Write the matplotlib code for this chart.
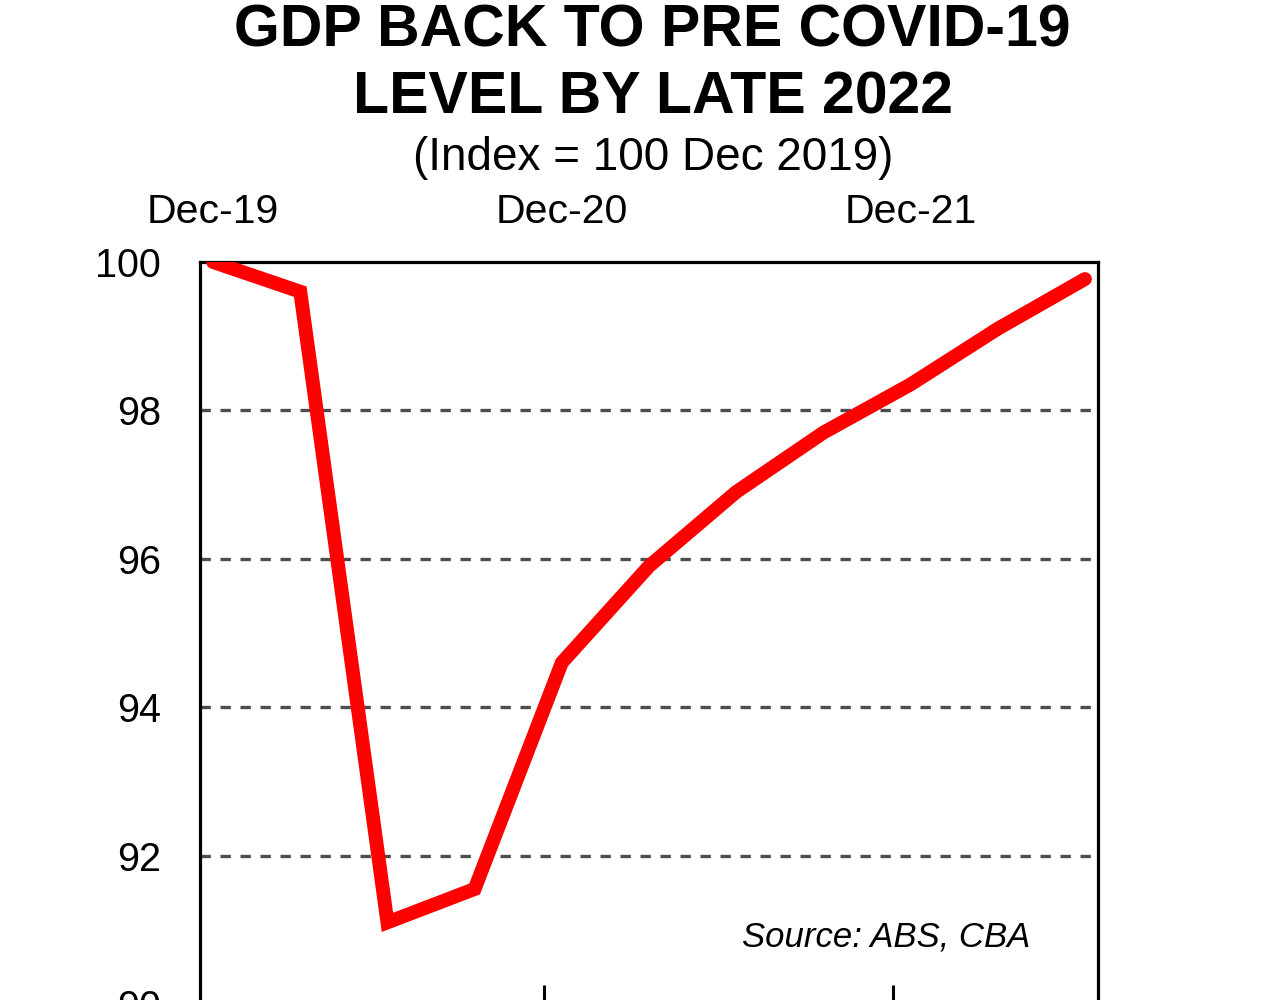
import numpy as np
import matplotlib
matplotlib.use("Agg")
import matplotlib.pyplot as plt
from matplotlib.ticker import FixedLocator

# ---- data ----
quarters = ["Dec-19", "Mar-20", "Jun-20", "Sep-20", "Dec-20", "Mar-21",
            "Jun-21", "Sep-21", "Dec-21", "Mar-22", "Jun-22"]
gdp_index = [100.0, 99.6, 91.1, 91.55, 94.6, 95.9, 96.9, 97.7, 98.35, 99.1, 99.77]
top_labels = ["Dec-19", "Dec-20", "Dec-21"]
y_ticks = [90, 92, 94, 96, 98, 100]
year_tick_marks = [3.8, 7.8]

title_lines = ["GDP BACK TO PRE COVID-19", "LEVEL BY LATE 2022"]
subtitle = "(Index = 100 Dec 2019)"
source = "Source: ABS, CBA"

plt.rcParams["font.family"] = ["Liberation Sans", "DejaVu Sans"]

fig = plt.figure(figsize=(12.8, 10), dpi=100)
ax = fig.add_axes([200/1280, 1 - 1004/1000, 898/1280, (1004-262)/1000])

x = np.arange(len(quarters))
ax.plot(x, gdp_index, color="#ff0000", lw=10, solid_joinstyle="miter",
        solid_capstyle="round", zorder=3)

ax.set_xlim(-0.15, len(quarters) - 1 + 0.15)
ax.set_ylim(90, 100)

# grid
for v in y_ticks[1:-1]:
    ax.axhline(v, color="#4d4d4d", lw=2.4, dashes=(3.1, 2.9), zorder=1)

# y ticks
ax.set_yticks(y_ticks)
ax.set_yticklabels([str(v) for v in y_ticks])
ax.tick_params(axis="y", length=0, pad=28, labelsize=28.5)

# top labels
label_pos = [quarters.index(l) for l in top_labels]
ax.xaxis.set_major_locator(FixedLocator(label_pos))
ax.set_xticklabels(top_labels)
ax.tick_params(axis="x", which="major", top=True, labeltop=True, bottom=False,
               labelbottom=False, length=0, pad=22, labelsize=29.5)
ax.xaxis.set_minor_locator(FixedLocator(year_tick_marks))
ax.tick_params(axis="x", which="minor", bottom=True, top=False, direction="in",
               length=14, width=2.2, color="black")

for s in ax.spines.values():
    s.set_linewidth(2.3)
    s.set_color("black")

ax.text(0.925, 0.09, source, transform=ax.transAxes, ha="right", va="center",
        fontsize=25, style="italic")

fig.text(0.51, 1 - 31/1000, title_lines[0], ha="center", va="center",
         fontsize=42.5, fontweight="bold")
fig.text(0.51, 1 - 98/1000, title_lines[1], ha="center", va="center",
         fontsize=42.5, fontweight="bold")
fig.text(0.51, 1 - 158/1000, subtitle, ha="center", va="center", fontsize=33)

fig.savefig("out.png", dpi=100)
